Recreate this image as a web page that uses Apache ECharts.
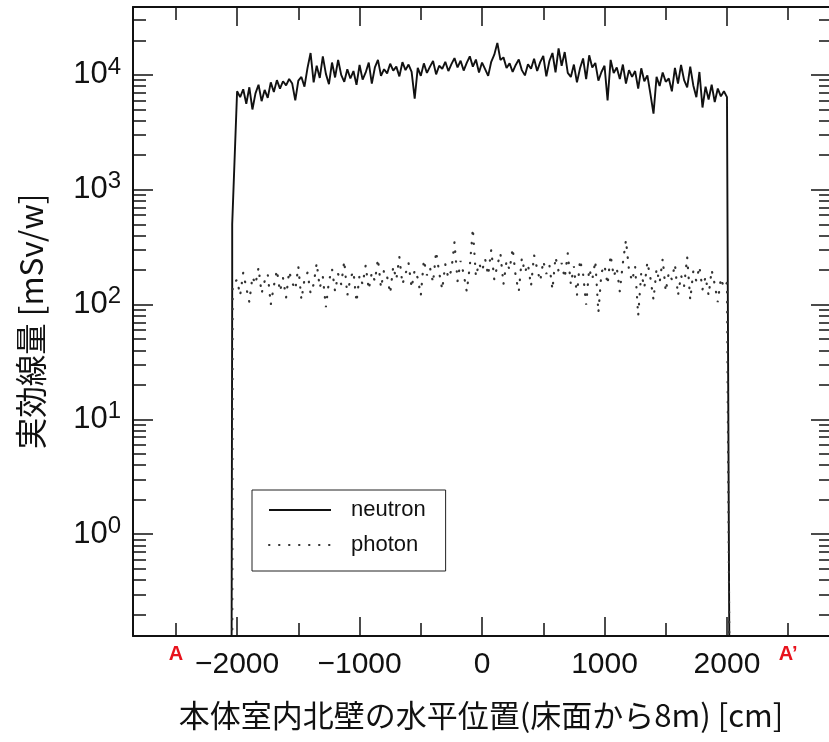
<!DOCTYPE html>
<html><head><meta charset="utf-8">
<script src="https://cdn.jsdelivr.net/npm/echarts@6/dist/echarts.min.js"></script>
<style>html,body{margin:0;padding:0;background:#fff}#c{width:829px;height:742px}</style>
</head><body><div id="c"></div>
<script>
// ---- axis ranges & ticks ----
const xMin = -2850, xMax = 2833;
const yMin = 0.13, yMax = 39000;
const xMajorTicks = [-2000, -1000, 0, 1000, 2000];
const xMinorTicks = [-2500, -1500, -500, 500, 1500, 2500];
const xMarkerTicks = [-2500, 2500];
const xMarkerLabels = ['A', 'A\u2019'];
const yMajorTicks = [1, 10, 100, 1000, 10000];
const yMajorExponents = ['0', '1', '2', '3', '4'];
const yMinorTicks = [0.2,0.3,0.4,0.5,0.6,0.7,0.8,0.9, 2,3,4,5,6,7,8,9, 20,30,40,50,60,70,80,90,
  200,300,400,500,600,700,800,900, 2000,3000,4000,5000,6000,7000,8000,9000, 20000,30000];

// ---- data (positions in cm, dose in mSv/w) ----
const gridStart = -2000, gridStep = 25;   // sample positions -2000 .. 2000
const neutronValues = [
 7200,6400,7500,5600,7800,5000,6900,8200,5900,7400,
 6300,8600,7100,9000,7600,8800,8100,9200,8400,6000,
 8900,9600,7900,11500,15500,8600,12000,9400,14500,10200,
 8300,12800,9500,13500,10000,8700,11200,9300,10800,8200,
 12200,9100,10500,12800,8400,11600,13500,9800,11200,10300,
 12500,10900,11800,9700,12900,11000,12300,10600,6200,11500,
 9800,12600,10400,11800,13200,10100,12000,11300,13000,10800,
 12400,14000,11600,13300,10900,12700,14500,11800,13600,10500,
 12800,11200,9800,13000,15000,19000,13500,14200,11500,12600,
 10600,12200,13600,11000,9900,12400,11300,13800,10800,12900,
 14600,9700,13200,15500,10500,17000,12000,15800,10400,9600,
 12300,8600,11400,13900,9200,14800,11600,12700,8900,10600,
 12000,6000,13500,10400,11600,9200,12300,8400,11000,9600,
 10800,7600,11400,8800,9900,6800,4600,9600,8000,10500,
 8700,9300,7200,11500,8400,12200,9000,7800,11800,8100,
 6400,10600,5200,7900,6100,8200,5800,7600,6500,7200,
 6400
];
const neutronLeftEdge = [[-2046, 0.02], [-2040, 150], [-2040, 500]];
const neutronRightEdge = [[2022, 0.02]];

const photonValues = [
 165,120,190,140,105,175,150,210,125,160,
 185,100,145,200,130,170,115,195,155,135,
 215,110,165,190,125,150,230,140,175,95,
 160,205,130,185,150,240,120,170,195,105,
 180,150,220,135,190,160,250,140,200,175,
 125,215,165,260,150,185,230,140,200,170,
 120,245,180,210,155,290,190,135,225,170,
 200,350,160,240,185,130,215,460,175,230,
 195,250,180,300,165,220,280,150,240,200,
 310,175,130,255,190,225,145,270,205,160,
 240,185,220,135,260,195,230,170,280,150,
 215,120,245,185,100,205,165,240,85,190,
 220,150,270,175,210,130,230,365,200,160,
 215,80,190,140,235,170,110,205,155,250,
 130,190,165,225,120,180,145,260,110,195,
 160,215,135,175,120,200,150,105,170,140,
 155
];
const photonLeftEdge = [[-2040, 0.02], [-2036, 150]];
const photonRightEdge = [[2016, 150], [2024, 0.02]];

function buildSeries(values, leftEdge, rightEdge) {
  const pts = leftEdge.slice();
  values.forEach((v, i) => pts.push([gridStart + i * gridStep, v]));
  return pts.concat(rightEdge);
}

const FONT = '"Liberation Sans", Arial, Helvetica, sans-serif';
const CJK = '"Noto Sans CJK JP", "Noto Sans", sans-serif';
const lineOn = { show: true, onZero: false, lineStyle: { color: '#111', width: 2 } };
const lineOff = { show: false, onZero: false };

function xAx(pos, ticks, len, labelCfg, showLine) {
  return {
    type: 'value', position: pos, min: xMin, max: xMax,
    axisLine: showLine ? lineOn : lineOff,
    axisTick: { show: true, inside: true, length: len, customValues: ticks, lineStyle: { color: '#111', width: 1.5 } },
    axisLabel: labelCfg || { show: false },
    splitLine: { show: false }
  };
}
function yAx(pos, ticks, len, labelCfg, showLine) {
  return {
    type: 'log', logBase: 10, position: pos, min: yMin, max: yMax,
    axisLine: showLine ? lineOn : lineOff,
    axisTick: { show: true, inside: true, length: len, customValues: ticks, lineStyle: { color: '#111', width: 1.5 } },
    axisLabel: labelCfg || { show: false },
    splitLine: { show: false }
  };
}

const xAxes = [
  Object.assign(xAx('bottom', xMajorTicks, 19, {
    show: true, customValues: xMajorTicks, margin: 14,
    formatter: v => (v < 0 ? '\u2212' + Math.abs(v) : String(v)),
    color: '#111', fontSize: 30, fontFamily: FONT
  }, true), {
    name: '本体室内北壁の水平位置(床面から8m) [cm]', nameLocation: 'middle', nameGap: 64,
    nameTextStyle: { color: '#111', fontSize: 31, fontFamily: CJK }
  }),
  xAx('bottom', xMinorTicks, 13, {
    show: true, customValues: xMarkerTicks, margin: 8,
    formatter: v => xMarkerLabels[xMarkerTicks.indexOf(v)],
    color: '#e8121c', fontSize: 20, fontWeight: 'bold', fontFamily: FONT
  }, false),
  xAx('top', xMajorTicks, 19, null, true),
  xAx('top', xMinorTicks, 13, null, false)
];

const yAxes = [
  Object.assign(yAx('left', yMajorTicks, 20, {
    show: true, customValues: yMajorTicks, margin: 12,
    formatter: v => '{b|10}{s|' + yMajorExponents[yMajorTicks.indexOf(v)] + '}',
    rich: {
      b: { fontSize: 31, fontFamily: FONT, color: '#111' },
      s: { fontSize: 24, fontFamily: FONT, color: '#111', verticalAlign: 'top', padding: [0, 0, 16, 0] }
    }
  }, true), {
    name: '実効線量 [mSv/w]', nameLocation: 'middle', nameGap: 86,
    nameTextStyle: { color: '#111', fontSize: 31.5, fontFamily: CJK }
  }),
  yAx('left', yMinorTicks, 13, null, false),
  yAx('right', yMajorTicks, 18, null, false),
  yAx('right', yMinorTicks, 10, null, false)
];

const chart = echarts.init(document.getElementById('c'), null, { renderer: 'canvas' });
chart.setOption({
  animation: false,
  backgroundColor: '#fff',
  grid: { left: 133, right: 0, top: 7, bottom: 106, containLabel: false },
  xAxis: xAxes,
  yAxis: yAxes,
  legend: {
    left: 252, top: 490, orient: 'vertical',
    data: ['neutron', 'photon'],
    itemWidth: 62, itemHeight: 14, itemGap: 13,
    padding: [9, 20, 15, 16],
    borderColor: '#222', borderWidth: 1, backgroundColor: '#fff',
    itemStyle: { opacity: 0, borderWidth: 0 },
    textStyle: { fontSize: 22, fontFamily: FONT, color: '#111', padding: [0, 0, 0, 15] }
  },
  series: [
    {
      name: 'neutron', type: 'line', xAxisIndex: 0, yAxisIndex: 0,
      data: buildSeries(neutronValues, neutronLeftEdge, neutronRightEdge),
      symbol: 'none', showSymbol: false, clip: true,
      lineStyle: { color: '#111', width: 1.9 }, itemStyle: { color: '#111' }
    },
    {
      name: 'photon', type: 'line', xAxisIndex: 0, yAxisIndex: 0,
      data: buildSeries(photonValues, photonLeftEdge, photonRightEdge),
      symbol: 'none', showSymbol: false, clip: true,
      lineStyle: { color: '#333', width: 2.2, type: [0.5, 9.5], cap: 'round' }, itemStyle: { color: '#333' }
    }
  ]
});
</script></body></html>
